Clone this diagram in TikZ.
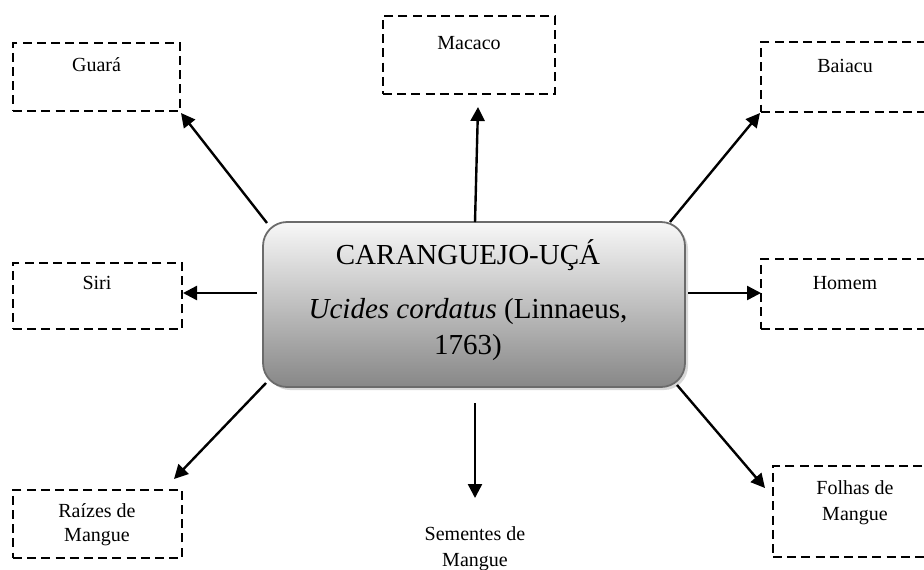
\documentclass[tikz,border=0pt]{standalone}
\usepackage{fontspec}
\setmainfont{Liberation Serif}
\usetikzlibrary{arrows.meta,shadows}
\begin{document}
\begin{tikzpicture}[x=0.5pt,y=-0.5pt,
  dbox/.style={draw=black, line width=1.2pt, dash pattern=on 4.5pt off 2.6pt, rectangle, inner sep=0pt},
  lbl/.style={font=\fontsize{10}{13}\selectfont, align=center, inner sep=0pt},
  ctext/.style={font=\fontsize{14.5}{18}\selectfont, inner sep=0pt},
  arr/.style={line width=1.2pt, -{Triangle[length=7pt,width=7pt]}},
  central/.style={rectangle, rounded corners=12pt, draw=black!58, line width=0.9pt,
    top color=black!3, bottom color=black!47, minimum width=211pt, minimum height=82.5pt,
    drop shadow={shadow xshift=1.5pt, shadow yshift=-1.5pt, fill=black!22, opacity=0.7}}]
\useasboundingbox (0,0) rectangle (924,569);
\clip (0,0) rectangle (924,569);
% boxes
\node[dbox, minimum width=83.5pt, minimum height=34pt] (guara) at (96.5,77) {};
\node[dbox, minimum width=86pt, minimum height=39pt] (macaco) at (469,55) {};
\node[dbox, minimum width=84pt, minimum height=35pt] (baiacu) at (845,77) {};
\node[dbox, minimum width=84.5pt, minimum height=33pt] (siri) at (97.5,296) {};
\node[dbox, minimum width=84pt, minimum height=35pt] (homem) at (845,294) {};
\node[dbox, minimum width=84.5pt, minimum height=34pt] (raizes) at (97.5,524) {};
\node[dbox, minimum width=82pt, minimum height=45.5pt] (folhas) at (855,511.5) {};
% labels
\node[lbl] (tguara) at (96.5,65) {Guará};
\node[lbl] (tmacaco) at (469,43) {Macaco};
\node[lbl] (tbaiacu) at (845,66) {Baiacu};
\node[lbl] (tsiri) at (97,283) {Siri};
\node[lbl] (thomem) at (845,283) {Homem};
\node[lbl, font=\fontsize{10}{12}\selectfont] (traizes) at (97,525) {Raízes de\\Mangue};
\node[lbl] (tfolhas) at (855,502.5) {Folhas de\\Mangue};
\node[lbl] (tsementes) at (475,548.5) {Sementes de\\Mangue};
% central
\node[central] (c) at (474,304.5) {};
\node[ctext] (c1) at (468,255) {CARANGUEJO-UÇÁ};
\node[ctext] (c2) at (468,312) {\textit{Ucides cordatus} (Linnaeus,};
\node[ctext] (c3) at (468,348) {1763)};
% connector coordinates
\coordinate (sG) at (267,223);
\coordinate (eG) at (181,113);
\coordinate (sM) at (475,222);
\coordinate (eM) at (478,107);
\coordinate (sB) at (670,222);
\coordinate (eB) at (760,113);
\coordinate (sS) at (257,293);
\coordinate (eS) at (183,293);
\coordinate (sH) at (688,293);
\coordinate (eH) at (761,293);
\coordinate (sR) at (266,383);
\coordinate (eR) at (174,479);
\coordinate (sSe) at (475,403);
\coordinate (eSe) at (475,498);
\coordinate (sF) at (677,385);
\coordinate (eF) at (765,488);
\draw[arr] (sG) -- (eG);
\draw[arr] (sM) -- (eM);
\draw[arr] (sB) -- (eB);
\draw[arr] (sS) -- (eS);
\draw[arr] (sH) -- (eH);
\draw[arr] (sR) -- (eR);
\draw[arr] (sSe) -- (eSe);
\draw[arr] (sF) -- (eF);
\end{tikzpicture}
\end{document}
